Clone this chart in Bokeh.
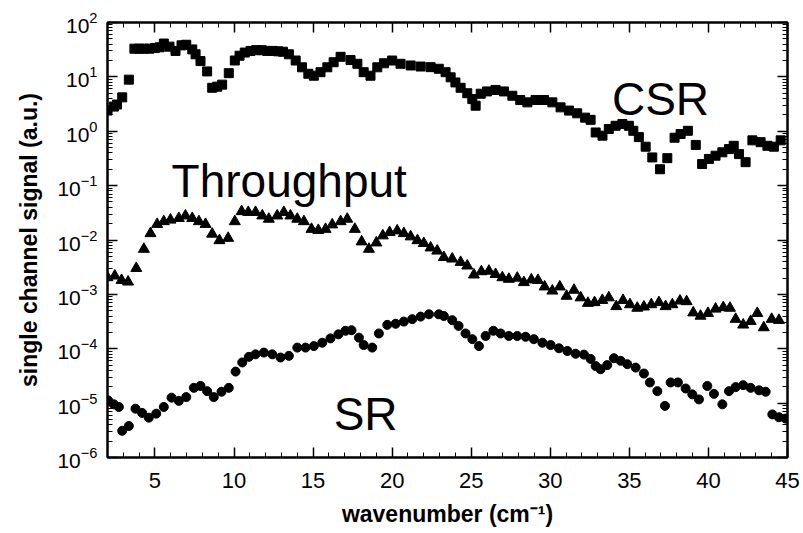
from bokeh.plotting import figure
from bokeh.models import (Range1d, LinearAxis, LogAxis, FixedTicker, LogTicker, Label)
from bokeh.embed import file_html
from bokeh.resources import INLINE

# ---- data: single channel signal (a.u.) vs wavenumber (cm^-1) ----
csr_x = [2.0, 2.4, 2.6, 2.93, 3.35, 3.7, 4.0, 4.3, 4.65, 5.0, 5.3, 5.56, 5.92, 6.3, 6.68,
         6.98, 7.36, 7.57, 7.88, 8.3, 8.62, 8.94, 9.25, 9.67, 10.05, 10.35, 10.68, 11.04,
         11.4, 11.75, 12.1, 12.45, 12.8, 13.1, 13.47, 13.9, 14.3, 14.7, 15.05, 15.47, 15.9,
         16.3, 16.74, 17.37, 17.8, 18.2, 18.63, 19.06, 19.48, 20.0, 20.53, 21.17, 21.8,
         22.43, 22.95, 23.38, 23.7, 24.0, 24.33, 24.75, 25.07, 25.28, 25.6, 26.0, 26.54,
         27.07, 27.6, 28.1, 28.55, 29.07, 29.6, 30.13, 30.65, 31.18, 31.7, 32.2, 32.55,
         32.87, 33.3, 33.7, 34.13, 34.56, 34.97, 35.25, 35.6, 36.03, 36.45, 36.94, 37.4,
         37.86, 38.24, 38.7, 39.2, 39.6, 40.03, 40.45, 40.88, 41.3, 41.6, 41.93, 42.35,
         42.78, 43.3, 43.73, 44.14, 44.57]
csr_y = [2.4, 2.84, 3.1, 4.2, 8.9, 33, 33, 33, 33, 34, 35, 41, 36, 30, 38,
         39, 32, 26, 19.5, 12.6, 6.3, 6.6, 7.2, 11.7, 20, 24.5, 28, 30,
         31, 31, 30, 30, 29.5, 29, 26, 20, 15, 11.4, 10.5, 12.2, 15,
         18.6, 23.4, 20.4, 17.4, 12.2, 10.5, 15, 17.8, 20, 17.4, 16.2, 15.5,
         15.1, 14.1, 12.2, 9.8, 7.9, 6.3, 5.0, 3.9, 2.95, 4.9, 5.4, 5.75,
         5.4, 4.5, 3.76, 3.4, 3.76, 3.76, 3.4, 2.75, 2.4, 2.14, 1.78, 1.62,
         0.95, 0.83, 1.1, 1.26, 1.36, 1.26, 1.02, 0.78, 0.52, 0.33, 0.20, 0.32,
         0.76, 0.89, 1.02, 0.56, 0.25, 0.31, 0.355, 0.41, 0.47, 0.54, 0.38, 0.27,
         0.68, 0.63, 0.54, 0.52, 0.68]

thr_x = [2.0, 2.46, 2.89, 3.3, 3.82, 4.3, 4.72, 5.14, 5.56, 5.98, 6.51, 6.93, 7.36, 7.78,
         8.2, 8.62, 9.08, 9.63, 10.05, 10.48, 10.9, 11.36, 11.79, 12.2, 12.73, 13.15,
         13.57, 14.0, 14.42, 14.9, 15.33, 15.79, 16.21, 16.74, 17.16, 17.64, 18.07, 18.53,
         19.0, 19.41, 19.84, 20.32, 20.74, 21.17, 21.6, 22.0, 22.43, 22.85, 23.27, 23.8,
         24.33, 24.75, 25.17, 25.64, 26.12, 26.54, 26.97, 27.38, 27.91, 28.33, 28.8,
         29.22, 29.64, 30.13, 30.6, 31.03, 31.5, 31.92, 32.38, 32.8, 33.29, 33.7, 34.17,
         34.6, 35.04, 35.5, 35.92, 36.39, 36.87, 37.29, 37.72, 38.2, 38.62, 39.04, 39.5,
         39.97, 40.45, 40.94, 41.36, 41.72, 42.2, 42.67, 43.09, 43.5, 44.0, 44.46]
thr_y = [2.04e-3, 2.19e-3, 1.82e-3, 1.70e-3, 3.02e-3, 6.8e-3, 1.32e-2, 1.95e-2, 2.19e-2,
         2.34e-2, 2.51e-2, 2.79e-2, 2.51e-2, 2.19e-2, 1.95e-2, 1.29e-2, 9.8e-3, 1.08e-2,
         2.19e-2, 3.35e-2, 3.24e-2, 3.24e-2, 2.79e-2, 2.43e-2, 2.79e-2, 3.24e-2, 2.79e-2,
         2.43e-2, 2.19e-2, 1.58e-2, 1.51e-2, 1.58e-2, 1.91e-2, 2.19e-2, 2.43e-2, 1.58e-2,
         9.3e-3, 6.8e-3, 8.9e-3, 1.20e-2, 1.38e-2, 1.48e-2, 1.32e-2, 1.15e-2, 9.8e-3,
         8.7e-3, 7.2e-3, 6.3e-3, 4.8e-3, 4.5e-3, 3.9e-3, 3.35e-3, 2.29e-3, 2.63e-3,
         2.69e-3, 2.34e-3, 2.04e-3, 1.91e-3, 2.0e-3, 1.66e-3, 1.86e-3, 1.82e-3, 1.38e-3,
         1.16e-3, 1.38e-3, 9.3e-4, 1.20e-3, 8.7e-4, 6.9e-4, 7.1e-4, 7.8e-4, 8.7e-4,
         6.0e-4, 7.8e-4, 6.5e-4, 5.6e-4, 5.9e-4, 6.5e-4, 7.1e-4, 6.0e-4, 6.5e-4, 7.6e-4,
         7.4e-4, 4.6e-4, 4.0e-4, 4.5e-4, 5.4e-4, 5.75e-4, 5.6e-4, 3.5e-4, 2.75e-4,
         3.2e-4, 4.5e-4, 2.45e-4, 3.5e-4, 3.35e-4]

sr_x = [2.04, 2.4, 2.72, 2.93, 3.35, 3.77, 4.19, 4.61, 5.08, 5.56, 6.05, 6.51, 6.98, 7.46,
        7.88, 8.3, 8.72, 9.21, 9.67, 10.1, 10.52, 10.94, 11.36, 11.89, 12.42, 12.94,
        13.47, 14.0, 14.52, 15.05, 15.58, 16.1, 16.6, 17.05, 17.43, 17.9, 18.2, 18.74,
        19.16, 19.69, 20.22, 20.74, 21.27, 21.8, 22.33, 22.95, 23.27, 23.8, 24.2, 24.64,
        25.07, 25.49, 25.91, 26.4, 26.86, 27.38, 27.91, 28.44, 28.96, 29.5, 30.02,
        30.55, 31.08, 31.6, 32.13, 32.55, 32.87, 33.18, 33.6, 34.02, 34.45, 34.87,
        35.4, 35.92, 36.3, 36.77, 37.25, 37.61, 38.07, 38.56, 38.98, 39.4, 39.93,
        40.35, 40.88, 41.3, 41.72, 42.2, 42.67, 43.2, 43.62, 44.04, 44.46, 44.88]
sr_y = [1.12e-5, 9.5e-6, 8.5e-6, 3.1e-6, 3.8e-6, 7.9e-6, 6.6e-6, 5.4e-6, 6.4e-6, 8.5e-6,
        1.26e-5, 1.10e-5, 1.29e-5, 1.91e-5, 2.07e-5, 1.66e-5, 1.29e-5, 1.62e-5, 1.91e-5,
        3.8e-5, 5.6e-5, 7.1e-5, 7.9e-5, 8.5e-5, 7.9e-5, 6.9e-5, 7.4e-5, 1.05e-4, 1.05e-4,
        1.12e-4, 1.29e-4, 1.55e-4, 1.84e-4, 2.14e-4, 2.19e-4, 1.60e-4, 1.17e-4, 1.05e-4,
        1.91e-4, 2.75e-4, 2.88e-4, 3.16e-4, 3.5e-4, 3.9e-4, 4.3e-4, 4.3e-4, 4.0e-4,
        3.35e-4, 2.63e-4, 1.91e-4, 1.50e-4, 1.12e-4, 1.72e-4, 2.14e-4, 1.91e-4, 1.72e-4,
        1.72e-4, 1.66e-4, 1.50e-4, 1.29e-4, 1.17e-4, 1.02e-4, 9.1e-5, 8.1e-5, 7.8e-5,
        6.5e-5, 4.8e-5, 4.2e-5, 5.0e-5, 6.7e-5, 6.0e-5, 5.2e-5, 4.5e-5, 3.5e-5, 2.4e-5,
        1.66e-5, 8.9e-6, 2.4e-5, 2.4e-5, 1.86e-5, 1.45e-5, 1.17e-5, 2.07e-5, 1.48e-5,
        9.5e-6, 1.66e-5, 1.97e-5, 2.14e-5, 1.91e-5, 1.72e-5, 1.62e-5, 6.2e-6, 5.5e-6,
        5.2e-6]

x_ticks = [5, 10, 15, 20, 25, 30, 35, 40, 45]
x_minor = list(range(2, 46))

FONT = "Liberation Sans"

p = figure(width=803, height=533, y_axis_type="log",
           x_range=Range1d(2, 45), y_range=Range1d(1e-6, 1e2),
           output_backend="svg", toolbar_location=None,
           min_border_left=107, min_border_right=16,
           min_border_top=22, min_border_bottom=76,
           background_fill_color="white", border_fill_color="white")

p.xgrid.visible = False
p.ygrid.visible = False
p.outline_line_color = "black"
p.outline_line_width = 2

def style_axis(ax, show_labels):
    ax.axis_line_color = "black"
    ax.axis_line_width = 2
    ax.major_tick_line_color = "black"
    ax.minor_tick_line_color = "black"
    ax.major_tick_line_width = 1.5
    ax.minor_tick_line_width = 1
    ax.major_tick_in = 10
    ax.major_tick_out = 0
    ax.minor_tick_in = 5
    ax.minor_tick_out = 0
    ax.major_label_text_color = "black"
    ax.axis_label_text_color = "black"
    if not show_labels:
        ax.major_label_text_font_size = "0px"
        ax.major_label_text_color = None

# bottom axis
xa = p.xaxis[0]
xa.ticker = FixedTicker(ticks=x_ticks, minor_ticks=x_minor)
style_axis(xa, True)
xa.major_label_text_font = FONT
xa.major_label_text_font_size = "22px"
xa.major_label_standoff = 15
xa.axis_label = "wavenumber (cm⁻¹)"
xa.axis_label_text_font = FONT
xa.axis_label_text_font_style = "bold"
xa.axis_label_text_font_size = "23px"
xa.axis_label_standoff = 10

# left axis
ya = p.yaxis[0]
ya.ticker = LogTicker(num_minor_ticks=10)
style_axis(ya, True)
ya.major_label_text_font = FONT
ya.major_label_text_font_size = "21px"
ya.major_label_standoff = 10
ya.axis_label = "single channel signal (a.u.)"
ya.axis_label_text_font = FONT
ya.axis_label_text_font_style = "bold"
ya.axis_label_text_font_size = "23px"
ya.axis_label_standoff = 12

# mirrored axes on top and right
top = LinearAxis(ticker=FixedTicker(ticks=x_ticks, minor_ticks=x_minor))
style_axis(top, False)
p.add_layout(top, "above")
right = LogAxis(ticker=LogTicker(num_minor_ticks=10))
style_axis(right, False)
p.add_layout(right, "right")

# series
p.scatter(csr_x, csr_y, marker="square", size=9, color="black")
p.scatter(thr_x, thr_y, marker="triangle", size=11, color="black")
p.scatter(sr_x, sr_y, marker="circle", size=9, color="black")

# series names
for txt, x, y in [("CSR", 33.9, 4.0), ("Throughput", 6.05, 0.124), ("SR", 16.3, 6.4e-6)]:
    p.add_layout(Label(x=x, y=y, text=txt, text_font=FONT, text_font_size="46px",
                       text_color="black", text_baseline="alphabetic", text_align="left"))

open("out.html", "w").write(file_html(p, INLINE))
